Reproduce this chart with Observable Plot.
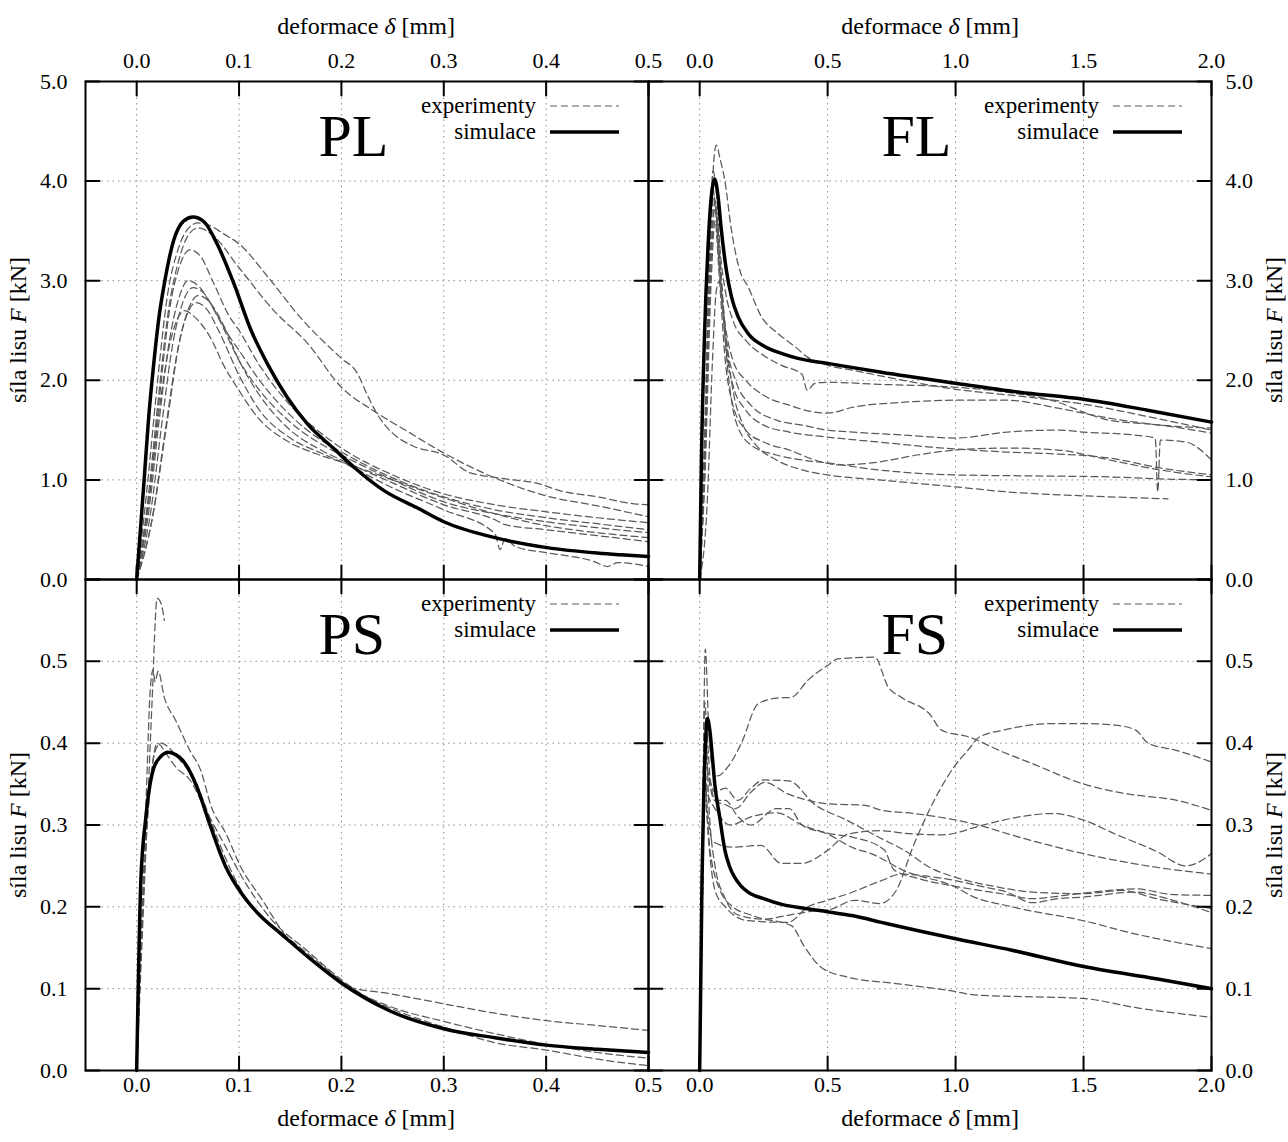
<!DOCTYPE html>
<html><head><meta charset="utf-8">
<script src="https://cdn.jsdelivr.net/npm/d3@7"></script>
<script src="https://cdn.jsdelivr.net/npm/@observablehq/plot@0.6"></script>
<style>
body{margin:0;background:#fff;}
#chart{position:relative;width:1288px;height:1142px;background:#fff;font-family:"Liberation Serif","Times New Roman",serif;color:#000;}
.panel{position:absolute;}
.panel svg{overflow:visible;}
.lbl{position:absolute;font-family:"Liberation Serif","Times New Roman",serif;font-size:24px;white-space:nowrap;transform:translate(-50%,-50%);line-height:1;}
.lbl.rot{transform:translate(-50%,-50%) rotate(-90deg);}
</style></head><body><div id="chart"></div><script>
// ---------- tick values ----------
const xTicksP = [0, 0.1, 0.2, 0.3, 0.4, 0.5];
const xTicksF = [0, 0.5, 1.0, 1.5, 2.0];
const yTicksTop = [0, 1, 2, 3, 4, 5];
const yTicksBottom = [0, 0.1, 0.2, 0.3, 0.4, 0.5, 0.6];
const yLabelsBottom = [0, 0.1, 0.2, 0.3, 0.4, 0.5];
const titles = ["PL", "FL", "PS", "FS"];
const legendLabels = ["experimenty", "simulace"];
const xAxisTitle = "deformace <i>δ</i> [mm]";
const yAxisTitle = "síla lisu <i>F</i> [kN]";

// ---------- PL ----------
const PL_sim = [[0,0],[0.007,0.96],[0.0115,1.6],[0.017,2.2],[0.022,2.65],[0.027,2.97],[0.036,3.40],[0.046,3.60],[0.055,3.64],[0.066,3.59],[0.079,3.36],[0.095,2.97],[0.111,2.52],[0.128,2.16],[0.147,1.83],[0.167,1.56],[0.193,1.31],[0.212,1.13],[0.242,0.89],[0.274,0.72],[0.30,0.58],[0.352,0.415],[0.401,0.32],[0.45,0.265],[0.5,0.23]];
const PL_exp = [
 [[0,0],[0.01,0.9],[0.02,1.95],[0.03,2.85],[0.04,3.3],[0.05,3.52],[0.06,3.58],[0.07,3.56],[0.085,3.47],[0.1,3.37],[0.128,3.04],[0.16,2.63],[0.2,2.22],[0.215,2.08],[0.225,1.86],[0.235,1.66],[0.25,1.47],[0.27,1.34],[0.3,1.25],[0.326,1.07],[0.335,1.05],[0.368,1.0],[0.39,0.97],[0.414,0.89],[0.45,0.83],[0.486,0.76],[0.5,0.75]],
 [[0,0],[0.011,0.8],[0.021,1.8],[0.031,2.7],[0.041,3.2],[0.05,3.45],[0.06,3.53],[0.075,3.45],[0.1,3.13],[0.134,2.7],[0.167,2.37],[0.2,1.93],[0.232,1.69],[0.264,1.49],[0.3,1.27],[0.35,1.02],[0.4,0.84],[0.45,0.74],[0.5,0.63]],
 [[0,0],[0.012,0.8],[0.022,1.8],[0.032,2.7],[0.042,3.15],[0.052,3.31],[0.062,3.25],[0.075,2.98],[0.09,2.65],[0.1,2.5],[0.12,2.15],[0.15,1.75],[0.18,1.47],[0.2,1.32],[0.25,1.05],[0.3,0.86],[0.35,0.75],[0.4,0.68],[0.45,0.62],[0.5,0.57]],
 [[0,0],[0.012,0.7],[0.022,1.6],[0.032,2.4],[0.042,2.85],[0.05,3.0],[0.06,2.95],[0.075,2.72],[0.09,2.45],[0.1,2.3],[0.12,2.0],[0.15,1.65],[0.18,1.4],[0.2,1.28],[0.25,1.02],[0.3,0.83],[0.35,0.7],[0.4,0.62],[0.45,0.56],[0.5,0.50]],
 [[0,0],[0.014,0.7],[0.025,1.6],[0.035,2.35],[0.045,2.78],[0.055,2.93],[0.065,2.88],[0.08,2.62],[0.1,2.2],[0.12,1.9],[0.15,1.58],[0.18,1.36],[0.2,1.25],[0.25,1.0],[0.3,0.78],[0.35,0.66],[0.4,0.58],[0.45,0.52],[0.5,0.47]],
 [[0,0],[0.015,0.6],[0.028,1.5],[0.04,2.3],[0.05,2.7],[0.06,2.85],[0.07,2.8],[0.085,2.55],[0.1,2.2],[0.12,1.85],[0.15,1.5],[0.18,1.3],[0.2,1.2],[0.25,0.97],[0.3,0.75],[0.35,0.6],[0.36,0.55],[0.4,0.5],[0.45,0.44],[0.5,0.38]],
 [[0,0],[0.015,0.6],[0.03,1.6],[0.042,2.4],[0.05,2.68],[0.058,2.78],[0.068,2.72],[0.08,2.5],[0.1,2.05],[0.12,1.7],[0.15,1.42],[0.18,1.27],[0.2,1.18],[0.25,0.92],[0.3,0.7],[0.35,0.46],[0.355,0.3],[0.36,0.41],[0.37,0.33],[0.4,0.27],[0.447,0.18],[0.46,0.13],[0.47,0.17],[0.5,0.13]],
 [[0,0],[0.012,0.8],[0.022,1.7],[0.032,2.35],[0.04,2.62],[0.047,2.7],[0.055,2.65],[0.072,2.43],[0.085,2.15],[0.098,1.93],[0.118,1.63],[0.147,1.39],[0.176,1.26],[0.206,1.16],[0.25,1.0],[0.3,0.82],[0.35,0.66],[0.4,0.54],[0.45,0.47],[0.5,0.42]]
];

// ---------- FL ----------
const FL_sim = [[0,0],[0.0065,1.16],[0.0195,2.5],[0.0326,3.34],[0.0456,3.85],[0.0586,4.02],[0.0716,3.85],[0.0846,3.51],[0.104,3.11],[0.124,2.84],[0.15,2.64],[0.189,2.47],[0.254,2.34],[0.319,2.27],[0.384,2.22],[0.5,2.17],[0.71,2.08],[1.0,1.97],[1.25,1.88],[1.5,1.81],[1.75,1.7],[2.0,1.58]];
const FL_exp = [
 [[0,0],[0.02,1.3],[0.04,3.2],[0.055,4.2],[0.065,4.36],[0.08,4.22],[0.098,4.01],[0.124,3.51],[0.156,3.11],[0.189,2.94],[0.241,2.64],[0.306,2.47],[0.371,2.34],[0.423,2.23],[0.5,2.15],[0.6,2.1],[0.735,2.03],[1.0,1.91],[1.25,1.84],[1.5,1.76],[1.78,1.62],[2.0,1.5]],
 [[0,0],[0.02,1.5],[0.04,3.5],[0.052,4.1],[0.065,3.9],[0.08,3.3],[0.1,2.9],[0.13,2.6],[0.18,2.4],[0.25,2.25],[0.32,2.15],[0.4,2.06],[0.42,1.9],[0.45,1.97],[0.5,1.98],[0.7,1.96],[1.0,1.93],[1.2,1.88],[1.4,1.78],[1.5,1.68],[1.6,1.6],[1.8,1.55],[2.0,1.47]],
 [[0,0],[0.02,1.4],[0.04,3.4],[0.05,3.95],[0.065,3.6],[0.08,3.0],[0.1,2.55],[0.13,2.2],[0.18,2.0],[0.25,1.85],[0.35,1.75],[0.45,1.68],[0.5,1.67],[0.6,1.73],[0.8,1.78],[1.0,1.8],[1.2,1.8],[1.4,1.72],[1.6,1.62],[1.8,1.55],[2.0,1.52]],
 [[0,0],[0.02,1.2],[0.04,3.2],[0.055,3.85],[0.07,3.5],[0.09,2.8],[0.11,2.3],[0.14,2.0],[0.2,1.75],[0.3,1.6],[0.4,1.55],[0.5,1.5],[0.6,1.48],[0.8,1.45],[1.0,1.42],[1.2,1.48],[1.4,1.5],[1.5,1.48],[1.7,1.45],[1.78,1.42],[1.79,0.88],[1.8,1.4],[1.9,1.38],[2.0,1.2]],
 [[0,0],[0.02,1.1],[0.045,3.2],[0.06,3.75],[0.075,3.3],[0.1,2.4],[0.13,1.95],[0.18,1.7],[0.25,1.55],[0.35,1.48],[0.5,1.43],[0.7,1.38],[0.9,1.33],[1.0,1.31],[1.2,1.28],[1.4,1.26],[1.6,1.22],[1.8,1.12],[2.0,1.05]],
 [[0,0],[0.02,1.0],[0.045,3.0],[0.06,3.6],[0.075,3.1],[0.1,2.2],[0.13,1.75],[0.18,1.5],[0.25,1.38],[0.35,1.3],[0.45,1.2],[0.55,1.15],[0.7,1.18],[0.85,1.25],[1.0,1.3],[1.2,1.32],[1.4,1.3],[1.6,1.2],[1.8,1.1],[2.0,1.03]],
 [[0,0],[0.03,0.8],[0.05,2.2],[0.065,2.9],[0.078,3.0],[0.09,2.7],[0.11,2.1],[0.14,1.6],[0.2,1.35],[0.3,1.25],[0.4,1.2],[0.5,1.17],[0.7,1.1],[1.0,1.05],[1.3,1.04],[1.6,1.03],[1.8,1.01],[2.0,1.0]],
 [[0,0],[0.02,1.2],[0.045,3.3],[0.06,3.8],[0.08,3.2],[0.1,2.5],[0.13,1.9],[0.17,1.55],[0.22,1.35],[0.3,1.2],[0.4,1.1],[0.5,1.05],[0.7,1.0],[1.0,0.93],[1.2,0.88],[1.5,0.84],[1.83,0.81]]
];

// ---------- PS ----------
const PS_sim = [[0,0],[0.004,0.23],[0.009,0.31],[0.016,0.367],[0.023,0.383],[0.031,0.389],[0.038,0.386],[0.045,0.379],[0.059,0.346],[0.07,0.306],[0.087,0.249],[0.105,0.212],[0.12,0.19],[0.141,0.167],[0.17,0.136],[0.201,0.106],[0.247,0.073],[0.3,0.051],[0.35,0.04],[0.4,0.031],[0.45,0.026],[0.5,0.022]];
const PS_exp = [
 [[0,0],[0.005,0.15],[0.01,0.3],[0.015,0.45],[0.02,0.577],[0.024,0.57],[0.027,0.55]],
 [[0,0],[0.005,0.18],[0.01,0.36],[0.013,0.46],[0.016,0.49],[0.018,0.475],[0.021,0.488],[0.027,0.456],[0.038,0.428],[0.052,0.391],[0.0625,0.367],[0.073,0.322],[0.087,0.29],[0.1016,0.249],[0.123,0.208],[0.144,0.167],[0.176,0.13],[0.208,0.102],[0.247,0.094],[0.3,0.0815],[0.35,0.07],[0.4,0.061],[0.45,0.055],[0.5,0.049]],
 [[0,0],[0.005,0.17],[0.01,0.3],[0.015,0.37],[0.02,0.40],[0.03,0.385],[0.038,0.371],[0.052,0.355],[0.066,0.322],[0.087,0.273],[0.105,0.232],[0.13,0.187],[0.166,0.147],[0.201,0.11],[0.23,0.086],[0.25,0.075],[0.3,0.053],[0.35,0.034],[0.4,0.025],[0.46,0.012],[0.5,0.006]],
 [[0,0],[0.006,0.2],[0.012,0.33],[0.018,0.39],[0.024,0.4],[0.035,0.39],[0.045,0.375],[0.055,0.36],[0.065,0.33],[0.08,0.28],[0.1,0.225],[0.12,0.19],[0.15,0.16],[0.18,0.13],[0.21,0.1],[0.25,0.077],[0.3,0.06],[0.35,0.045],[0.4,0.032],[0.45,0.022],[0.5,0.015]]
];

// ---------- FS ----------
const FS_sim = [[0,0],[0.009,0.232],[0.016,0.34],[0.022,0.395],[0.03,0.43],[0.04,0.415],[0.049,0.385],[0.059,0.35],[0.078,0.31],[0.098,0.27],[0.117,0.249],[0.137,0.236],[0.16,0.226],[0.189,0.218],[0.25,0.21],[0.32,0.203],[0.412,0.198],[0.5,0.194],[0.6,0.189],[0.71,0.181],[0.85,0.171],[1.0,0.161],[1.22,0.147],[1.5,0.127],[1.784,0.112],[2.0,0.1]];
const FS_exp = [
 [[0,0],[0.01,0.25],[0.022,0.515],[0.035,0.42],[0.05,0.37],[0.07,0.36],[0.11,0.371],[0.163,0.40],[0.228,0.448],[0.3,0.455],[0.358,0.456],[0.423,0.477],[0.5,0.495],[0.54,0.503],[0.684,0.505],[0.736,0.469],[0.788,0.456],[0.9,0.435],[0.945,0.416],[1.058,0.407],[1.171,0.391],[1.3,0.375],[1.5,0.35],[1.67,0.338],[1.865,0.33],[2.0,0.318]],
 [[0,0],[0.01,0.25],[0.02,0.45],[0.035,0.33],[0.06,0.25],[0.1,0.21],[0.15,0.19],[0.25,0.185],[0.35,0.19],[0.45,0.195],[0.5,0.196],[0.606,0.208],[0.703,0.204],[0.768,0.22],[0.833,0.273],[0.897,0.318],[0.994,0.371],[1.058,0.395],[1.09,0.407],[1.187,0.416],[1.381,0.424],[1.5,0.424],[1.623,0.422],[1.704,0.416],[1.752,0.40],[1.865,0.391],[2.0,0.377]],
 [[0,0],[0.012,0.3],[0.025,0.42],[0.04,0.36],[0.06,0.33],[0.1,0.325],[0.14,0.32],[0.2,0.34],[0.254,0.352],[0.345,0.338],[0.423,0.33],[0.5,0.326],[0.645,0.324],[0.71,0.318],[0.84,0.314],[1.087,0.300],[1.25,0.285],[1.5,0.265],[1.75,0.25],[2.0,0.24]],
 [[0,0],[0.01,0.2],[0.02,0.36],[0.03,0.32],[0.05,0.28],[0.124,0.273],[0.24,0.275],[0.319,0.253],[0.397,0.253],[0.5,0.269],[0.58,0.289],[0.71,0.293],[0.8,0.29],[0.95,0.288],[1.107,0.30],[1.25,0.31],[1.381,0.314],[1.5,0.306],[1.623,0.289],[1.784,0.268],[1.9,0.25],[2.0,0.265]],
 [[0,0],[0.01,0.22],[0.02,0.38],[0.035,0.36],[0.06,0.34],[0.1,0.345],[0.15,0.33],[0.2,0.345],[0.25,0.355],[0.348,0.354],[0.45,0.325],[0.574,0.306],[0.7,0.285],[0.8,0.269],[0.9,0.248],[1.0,0.236],[1.15,0.225],[1.3,0.218],[1.5,0.216],[1.65,0.22],[1.784,0.21],[2.0,0.198]],
 [[0,0],[0.01,0.2],[0.02,0.35],[0.035,0.28],[0.06,0.22],[0.1,0.2],[0.189,0.183],[0.345,0.181],[0.423,0.20],[0.5,0.208],[0.58,0.216],[0.71,0.232],[0.788,0.24],[0.9,0.237],[1.0,0.232],[1.1,0.225],[1.2,0.218],[1.3,0.205],[1.4,0.21],[1.5,0.212],[1.7,0.218],[1.85,0.208],[2.0,0.193]],
 [[0,0],[0.01,0.2],[0.02,0.4],[0.03,0.37],[0.06,0.33],[0.1,0.33],[0.15,0.31],[0.2,0.3],[0.3,0.32],[0.35,0.32],[0.4,0.3],[0.5,0.289],[0.6,0.272],[0.67,0.265],[0.8,0.244],[1.0,0.224],[1.058,0.214],[1.22,0.2],[1.5,0.183],[1.7,0.167],[2.0,0.149]],
 [[0,0],[0.01,0.2],[0.02,0.33],[0.04,0.27],[0.08,0.22],[0.13,0.2],[0.2,0.19],[0.228,0.187],[0.358,0.177],[0.41,0.151],[0.475,0.126],[0.58,0.114],[0.775,0.106],[0.97,0.098],[1.087,0.092],[1.3,0.09],[1.5,0.088],[1.7,0.077],[2.0,0.065]],
 [[0,0],[0.01,0.2],[0.02,0.37],[0.03,0.34],[0.06,0.32],[0.12,0.3],[0.2,0.31],[0.3,0.315],[0.4,0.3],[0.5,0.29],[0.6,0.285],[0.72,0.27],[0.76,0.245],[0.85,0.235],[1.0,0.225],[1.2,0.215],[1.3,0.21],[1.45,0.215],[1.6,0.22],[1.7,0.222],[1.85,0.215],[2.0,0.214]]
];

// ---------- drawing ----------
const FONT = '"Liberation Serif", "Times New Roman", serif';
const EXP_COLOR = "#5a5a5a";
const EXP_DASH = "7,4";
const fmt = d3.format(".1f");
const tickShape = {draw(ctx, l) { ctx.moveTo(0, 0); ctx.lineTo(0, -l); }};
const toRows = (series) => series.flatMap((s, i) => s.map(([x, y]) => ({x, y, id: i})));

function legendMark() {
  return (index, scales, values, dims) => {
    const g = d3.create("svg:g").attr("font-family", FONT).attr("font-size", 23);
    const xr = dims.width - dims.marginRight;
    const yt = dims.marginTop;
    const rows = [
      {label: legendLabels[0], color: EXP_COLOR, w: 1.2, dash: EXP_DASH},
      {label: legendLabels[1], color: "#000", w: 3.5, dash: null}
    ];
    rows.forEach((r, i) => {
      const y = yt + 25 + i * 26;
      g.append("text").attr("x", xr - 112).attr("y", y).attr("dy", "0.32em")
        .attr("text-anchor", "end").attr("fill", "#000").text(r.label);
      g.append("line").attr("x1", xr - 98).attr("x2", xr - 29).attr("y1", y).attr("y2", y)
        .attr("stroke", r.color).attr("stroke-width", r.w).attr("stroke-dasharray", r.dash);
    });
    return g.node();
  };
}

function panel(o) {
  const tk = {length: 14, anchor: "start", shape: tickShape, stroke: "#000", strokeWidth: 2};
  const grid = {stroke: "#8c8c8c", strokeOpacity: 1, strokeWidth: 1, strokeDasharray: "1.5,4"};
  return Plot.plot({
    width: o.width, height: o.height,
    marginTop: o.mt, marginRight: o.mr, marginBottom: o.mb, marginLeft: o.ml,
    x: {domain: o.xDomain},
    y: {domain: o.yDomain},
    style: {fontFamily: FONT, fontSize: "22px", background: "transparent", overflow: "visible", color: "#000"},
    marks: [
      Plot.gridX(o.xTicks, grid),
      Plot.gridY(o.yTicks, grid),
      Plot.line(toRows(o.exp), {x: "x", y: "y", z: "id", stroke: EXP_COLOR, strokeWidth: 1.25, strokeDasharray: EXP_DASH, curve: "monotone-x"}),
      Plot.line(o.sim, {x: d => d[0], y: d => d[1], stroke: "#000", strokeWidth: 3.5, curve: "monotone-x"}),
      Plot.frame({stroke: "#000", strokeWidth: 2}),
      Plot.vector(o.xTicks, {x: d => d, frameAnchor: "bottom", rotate: 0, ...tk}),
      Plot.vector(o.xTicks, {x: d => d, frameAnchor: "top", rotate: 180, ...tk}),
      Plot.vector(o.yTicks, {y: d => d, frameAnchor: "left", rotate: 90, ...tk}),
      Plot.vector(o.yTicks, {y: d => d, frameAnchor: "right", rotate: -90, ...tk}),
      Plot.axisX(o.xTicks, {anchor: o.xAxis, tickSize: 0, tickPadding: o.xAxis === "top" ? 14 : 6, tickFormat: fmt, label: null, fontSize: 22, fontFamily: FONT}),
      Plot.axisY(o.yLabels, {anchor: o.yAxis, tickSize: 0, tickPadding: o.yAxis === "left" ? 18 : 14, tickFormat: fmt, label: null, fontSize: 22, fontFamily: FONT}),
      Plot.text([o.title], {frameAnchor: "top-left", dx: 233, dy: 74, text: d => d, fontSize: 60, fontFamily: FONT, textAnchor: "start", lineAnchor: "bottom", fill: "#000"}),
      legendMark()
    ]
  });
}

const chart = document.getElementById("chart");
function place(svg, left, top) {
  const d = document.createElement("div");
  d.className = "panel"; d.style.left = left + "px"; d.style.top = top + "px";
  d.appendChild(svg); chart.appendChild(d);
}
const TOP_H = 579, BOT_H = 563;
place(panel({title: titles[0], width: 648, height: TOP_H, mt: 81, mr: 0, mb: 0, ml: 85, xDomain: [-0.05, 0.5], yDomain: [0, 5], xTicks: xTicksP, yTicks: yTicksTop, yLabels: yTicksTop, sim: PL_sim, exp: PL_exp, xAxis: "top", yAxis: "left"}), 0, 0);
place(panel({title: titles[1], width: 640, height: TOP_H, mt: 81, mr: 77, mb: 0, ml: 0, xDomain: [-0.2, 2.0], yDomain: [0, 5], xTicks: xTicksF, yTicks: yTicksTop, yLabels: yTicksTop, sim: FL_sim, exp: FL_exp, xAxis: "top", yAxis: "right"}), 648, 0);
place(panel({title: titles[2], width: 648, height: BOT_H, mt: 0, mr: 0, mb: 72, ml: 85, xDomain: [-0.05, 0.5], yDomain: [0, 0.6], xTicks: xTicksP, yTicks: yTicksBottom, yLabels: yLabelsBottom, sim: PS_sim, exp: PS_exp, xAxis: "bottom", yAxis: "left"}), 0, TOP_H);
place(panel({title: titles[3], width: 640, height: BOT_H, mt: 0, mr: 77, mb: 72, ml: 0, xDomain: [-0.2, 2.0], yDomain: [0, 0.6], xTicks: xTicksF, yTicks: yTicksBottom, yLabels: yLabelsBottom, sim: FS_sim, exp: FS_exp, xAxis: "bottom", yAxis: "right"}), 648, TOP_H);

function label(html, x, y, rot) {
  const d = document.createElement("div");
  d.className = "lbl" + (rot ? " rot" : "");
  d.style.left = x + "px"; d.style.top = y + "px";
  d.innerHTML = html; chart.appendChild(d);
}
label(xAxisTitle, 366, 26, false);
label(xAxisTitle, 930, 26, false);
label(xAxisTitle, 366, 1118, false);
label(xAxisTitle, 930, 1118, false);
label(yAxisTitle, 18, 330, true);
label(yAxisTitle, 18, 825, true);
label(yAxisTitle, 1274, 330, true);
label(yAxisTitle, 1274, 825, true);
</script></body></html>
